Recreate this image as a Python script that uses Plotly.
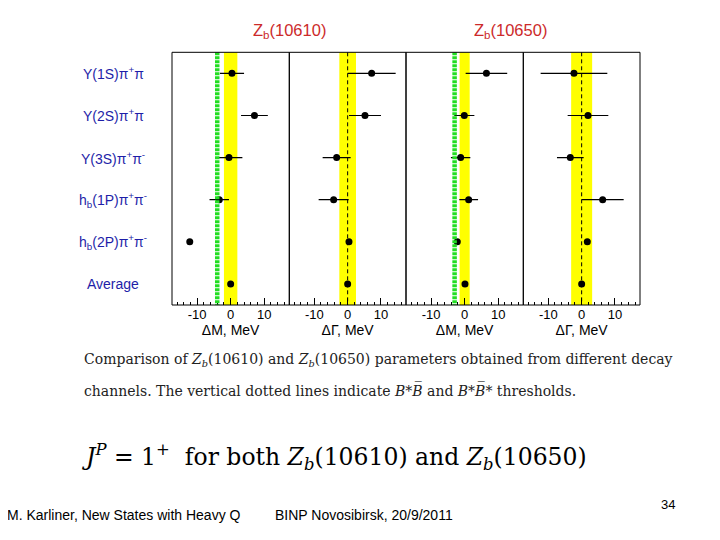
import plotly.graph_objects as go

# rows, top to bottom
channels = ["Υ(1S)π<sup>+</sup>π", "Υ(2S)π<sup>+</sup>π", "Υ(3S)π<sup>+</sup>π<sup>-</sup>",
            "h<sub>b</sub>(1P)π<sup>+</sup>π<sup>-</sup>", "h<sub>b</sub>(2P)π<sup>+</sup>π<sup>-</sup>", "Average"]

# Zb(10610): mass and width shifts (MeV)
dm_10610 = [0.4, 7.1, -0.5, -3.4, -12.2, 0.0]
dm_10610_err = [3.6, 4.0, 4.0, 2.9, 0.0, 0.0]
dg_10610 = [7.2, 5.2, -3.3, -4.2, 0.4, 0.0]
dg_10610_err = [7.2, 4.8, 4.2, 4.5, 0.0, 0.0]

# Zb(10650)
dm_10650 = [6.5, -0.1, -1.2, 1.2, -2.2, 0.1]
dm_10650_err = [6.2, 3.0, 2.9, 2.8, 0.0, 0.0]
dg_10650 = [-2.3, 1.9, -3.4, 6.3, 1.7, 0.0]
dg_10650_err = [10.0, 6.1, 4.0, 6.3, 0.0, 0.0]

# average band half-widths and thresholds
band_halfwidth = [2.0, 2.5, 1.5, 3.15]
thresholds = [-4.0, None, -3.0, None]

tick_vals = [-10, 0, 10]
tick_text = ["-10", "0", "10"]

panels = [
    (dm_10610, dm_10610_err, "ΔM, MeV"),
    (dg_10610, dg_10610_err, "ΔΓ, MeV"),
    (dm_10650, dm_10650_err, "ΔM, MeV"),
    (dg_10650, dg_10650_err, "ΔΓ, MeV"),
]

# page body has an 8px margin, so shift reference pixel positions
OFF = 8


def px(x):
    return (x - OFF) / 720


def py(y):
    return 1 - (y - OFF) / 540


edges = [px(172), px(289.3), px(406), px(523.3), px(640)]
ydom = [py(305), py(52.3)]
rows = list(range(len(channels)))

fig = go.Figure()
layout = dict(
    width=720, height=540,
    margin=dict(l=0, r=0, t=0, b=0),
    paper_bgcolor="white", plot_bgcolor="white",
    showlegend=False,
    font=dict(family="Liberation Sans, Arial", color="black"),
    yaxis=dict(domain=ydom, range=[5.5, -0.5], showticklabels=False, ticks="",
               showgrid=False, zeroline=False, showline=False, anchor="x"),
)
shapes = []
for i, (vals, errs, title) in enumerate(panels):
    xa = "x" if i == 0 else "x%d" % (i + 1)
    key = "xaxis" if i == 0 else "xaxis%d" % (i + 1)
    layout[key] = dict(
        domain=[edges[i], edges[i + 1]], range=[-17.5, 17.5], anchor="y",
        showline=False, showgrid=False, zeroline=False,
        ticks="inside", ticklen=7, tickcolor="black",
        tickvals=tick_vals, ticktext=tick_text,
        minor=dict(ticks="inside", ticklen=3, dtick=2, tick0=0, tickcolor="black"),
        tickfont=dict(size=13), title=dict(text=title, font=dict(size=14), standoff=4),
    )
    h = band_halfwidth[i]
    shapes.append(dict(type="rect", xref=xa, yref="y", x0=-h, x1=h, y0=-0.5, y1=5.5,
                       fillcolor="#ffff00", line=dict(width=0), layer="below"))
    if thresholds[i] is not None:
        shapes.append(dict(type="line", xref=xa, yref="y", x0=thresholds[i], x1=thresholds[i],
                           y0=-0.5, y1=5.5, line=dict(color="#22dd22", width=4.5, dash="3px,1px")))
    else:
        shapes.append(dict(type="line", xref=xa, yref="y", x0=0, x1=0, y0=-0.5, y1=5.5,
                           line=dict(color="black", width=1, dash="4px,3px")))
    shapes.append(dict(type="rect", xref=xa + " domain", yref="y domain", x0=0, x1=1, y0=0, y1=1,
                       line=dict(color="black", width=1), fillcolor="rgba(0,0,0,0)"))
    fig.add_trace(go.Scatter(
        x=vals, y=rows, xaxis=xa, yaxis="y", mode="markers",
        marker=dict(color="black", size=7),
        error_x=dict(type="data", array=errs, color="black", thickness=1.2, width=0),
    ))

annotations = []
for r, lab in zip(rows, channels):
    annotations.append(dict(text=lab, x=px(113), xref="paper", y=r, yref="y",
                            showarrow=False, xanchor="center", yanchor="middle",
                            font=dict(size=14, color="#1e1ea8")))


def note(text, x, y, size, xanchor="left", family=None, color="black"):
    f = dict(size=size, color=color)
    if family:
        f["family"] = family
    return dict(text=text, x=px(x), y=py(y), xref="paper", yref="paper", showarrow=False,
                xanchor=xanchor, yanchor="middle", font=f)


serif = "DejaVu Serif, serif"
annotations += [
    note("Z<sub>b</sub>(10610)", 289, 31, 16.5, "center", color="#cc2a2a"),
    note("Z<sub>b</sub>(10650)", 510, 31, 16.5, "center", color="#cc2a2a"),
    note("Comparison of <i>Z<sub>b</sub></i>(10610) and <i>Z<sub>b</sub></i>(10650) parameters obtained from different decay",
         82, 360, 14, family=serif, color="#222222"),
    note("channels. The vertical dotted lines indicate <i>B*B̅</i> and <i>B*B̅*</i> thresholds.",
         82, 390, 14, family=serif, color="#222222"),
    note("<i>J<sup>P</sup></i> = 1<sup>+</sup>  for both <i>Z<sub>b</sub></i>(10610) and <i>Z<sub>b</sub></i>(10650)",
         80, 457, 23.5, family=serif),
    note("M. Karliner, New States with Heavy Q", 5, 515, 14),
    note("BINP Novosibirsk, 20/9/2011", 273, 515, 14),
    note("34", 668, 504, 13, "center"),
]
layout["shapes"] = shapes
layout["annotations"] = annotations
fig.update_layout(**layout)

fig.write_html("out.html")
